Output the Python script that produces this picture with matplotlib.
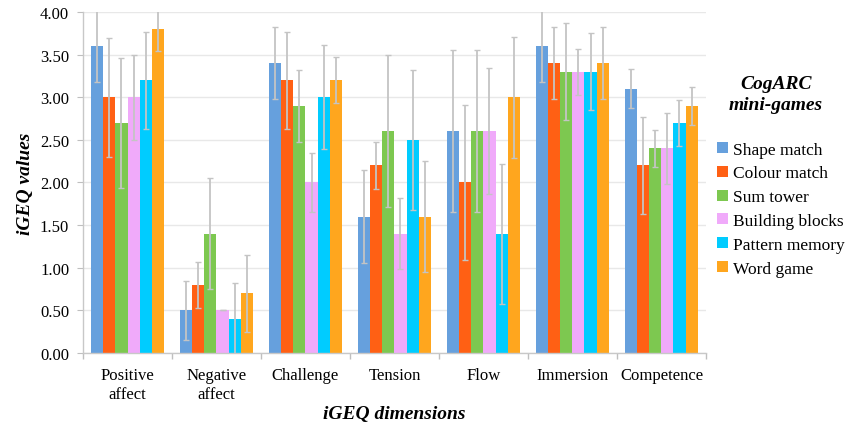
import numpy as np
import matplotlib
matplotlib.use("Agg")
import matplotlib.pyplot as plt
from matplotlib.ticker import FixedLocator, FormatStrFormatter

plt.rcParams["font.family"] = ["Liberation Serif", "DejaVu Serif"]

dimensions = ["Positive\naffect", "Negative\naffect", "Challenge", "Tension",
              "Flow", "Immersion", "Competence"]
games = ["Shape match", "Colour match", "Sum tower", "Building blocks",
         "Pattern memory", "Word game"]
colors = ["#66A0DD", "#FF6014", "#7DC850", "#F0AAFA", "#00CCFF", "#FFA61E"]

# mean values per game, one value per dimension
shape_match = [3.6, 0.5, 3.4, 1.6, 2.6, 3.6, 3.1]
colour_match = [3.0, 0.8, 3.2, 2.2, 2.0, 3.4, 2.2]
sum_tower = [2.7, 1.4, 2.9, 2.6, 2.6, 3.3, 2.4]
building_blocks = [3.0, 0.5, 2.0, 1.4, 2.6, 3.3, 2.4]
pattern_memory = [3.2, 0.4, 3.0, 2.5, 1.4, 3.3, 2.7]
word_game = [3.8, 0.7, 3.2, 1.6, 3.0, 3.4, 2.9]

# error bar half lengths
shape_match_err = [0.42, 0.35, 0.42, 0.55, 0.95, 0.42, 0.23]
colour_match_err = [0.70, 0.27, 0.57, 0.28, 0.91, 0.42, 0.57]
sum_tower_err = [0.76, 0.65, 0.42, 0.89, 0.95, 0.57, 0.22]
building_blocks_err = [0.50, 0.00, 0.35, 0.42, 0.74, 0.27, 0.42]
pattern_memory_err = [0.57, 0.42, 0.61, 0.82, 0.82, 0.45, 0.27]
word_game_err = [0.26, 0.45, 0.27, 0.65, 0.71, 0.42, 0.22]

values = [shape_match, colour_match, sum_tower, building_blocks,
          pattern_memory, word_game]
errors = [shape_match_err, colour_match_err, sum_tower_err,
          building_blocks_err, pattern_memory_err, word_game_err]

fig = plt.figure(figsize=(8.47, 4.27), dpi=100)
ax = fig.add_axes([0.098, 0.171, 0.7355, 0.7986])

x = np.arange(len(dimensions))
width = 0.135
for i, (game, vals, errs, c) in enumerate(zip(games, values, errors, colors)):
    offset = (i - 2.5) * width
    ax.bar(x + offset, vals, width, color=c, label=game, zorder=2,
           yerr=errs,
           error_kw=dict(ecolor="#C4C4C4", elinewidth=1.3, capsize=2.2,
                         capthick=1.0, zorder=3))

ax.set_xlim(-0.5, len(dimensions) - 0.5)
ax.set_ylim(0, 4)
ax.set_yticks(np.arange(0, 4.01, 0.5))
ax.yaxis.set_major_formatter(FormatStrFormatter("%.2f"))
ax.set_xticks(x)
ax.set_xticklabels(dimensions, fontsize=12, linespacing=1.25)
ax.xaxis.set_minor_locator(FixedLocator(np.arange(-0.5, len(dimensions), 1)))
ax.tick_params(axis="x", which="major", length=0, pad=10)
ax.tick_params(axis="x", which="minor", length=4, color="#BFBFBF", width=1)
ax.tick_params(axis="y", length=4, color="#BFBFBF", labelsize=12, pad=6)

ax.grid(axis="y", color="#E8E8E8", linewidth=1, zorder=0)
ax.set_axisbelow(True)
for side in ["top", "right"]:
    ax.spines[side].set_visible(False)
for side in ["left", "bottom"]:
    ax.spines[side].set_color("#C8C8C8")
    ax.spines[side].set_linewidth(1)

ax.set_ylabel("iGEQ values", fontsize=14, fontweight="bold", style="italic",
              labelpad=4)
ax.set_xlabel("iGEQ dimensions", fontsize=14, fontweight="bold",
              style="italic", labelpad=2)

fig.text(0.916, 0.778, "CogARC\nmini-games", ha="center", va="center",
         fontsize=14, fontweight="bold", style="italic", linespacing=1.3)
ax.legend(loc="upper left", bbox_to_anchor=(0.847, 0.666),
          bbox_transform=fig.transFigure, frameon=False, fontsize=12.5,
          handlelength=0.6, handleheight=0.6, handletextpad=0.3,
          labelspacing=0.45, borderaxespad=0, borderpad=0)

fig.savefig("out.png", dpi=100)
